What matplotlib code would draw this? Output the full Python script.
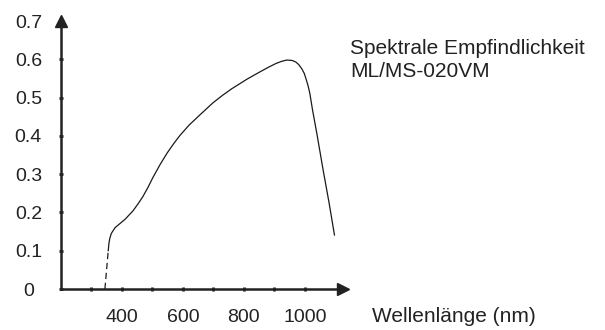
import matplotlib
matplotlib.use("Agg")
import matplotlib.pyplot as plt

plt.rcParams['font.family'] = ['Liberation Sans', 'DejaVu Sans']

# spectral sensitivity (nm, A/W)
wl_dash = [344, 355]
resp_dash = [0.0, 0.10]

wl = [355, 357, 360, 365, 377, 395, 410, 436, 455, 469, 485, 502, 525, 548,
      570, 590, 620, 656, 698, 730, 760, 810, 850, 880, 905, 925, 941, 958,
      970, 980, 990, 998, 1004, 1010, 1016, 1025, 1039, 1060, 1080, 1097]
resp = [0.10, 0.118, 0.132, 0.145, 0.160, 0.172, 0.182, 0.204, 0.225, 0.242,
        0.265, 0.292, 0.325, 0.355, 0.380, 0.401, 0.428, 0.455, 0.486, 0.506,
        0.523, 0.548, 0.566, 0.579, 0.589, 0.595, 0.598, 0.597, 0.593, 0.586,
        0.575, 0.563, 0.548, 0.532, 0.512, 0.468, 0.407, 0.310, 0.222, 0.141]

x_ticks = [400, 600, 800, 1000]
x_minor = [300, 500, 700, 900]
y_ticks = [0, 0.1, 0.2, 0.3, 0.4, 0.5, 0.6, 0.7]
y_labels = ['0', '0.1', '0.2', '0.3', '0.4', '0.5', '0.6', '0.7']

W, H = 605, 330
fig = plt.figure(figsize=(W / 100, H / 100), dpi=100)
ax = fig.add_axes([61 / W, (H - 289) / H, (343 - 61) / W, (289 - 21) / H])

ax.set_xlim(200, 1125)
ax.set_ylim(0, 0.7)

line_col = '#1a1a1a'
ax.plot(wl_dash, resp_dash, color=line_col, lw=0.9, ls=(0, (5, 3)))
ax.plot(wl, resp, color=line_col, lw=0.9)

for s in ['top', 'right']:
    ax.spines[s].set_visible(False)
for s in ['left', 'bottom']:
    ax.spines[s].set_linewidth(1.8)
    ax.spines[s].set_color('#222222')

# arrow heads at the axis ends
ax.plot([1125], [0], marker='>', color='#222222', ms=8, clip_on=False)
ax.plot([200], [0.7], marker='^', color='#222222', ms=8, clip_on=False)

ax.set_xticks(x_ticks)
ax.set_xticks(x_minor, minor=True)
ax.set_yticks(y_ticks)
ax.set_yticklabels(y_labels)
ax.tick_params(axis='both', which='both', direction='inout', length=3, width=2,
               color='#222222', labelsize=14, labelcolor='#222222')
ax.tick_params(axis='x', pad=13)
ax.tick_params(axis='y', pad=22)
for lab in ax.get_yticklabels():
    lab.set_horizontalalignment('center')

fig.text(350 / W, 1 - 54 / H, 'Spektrale Empfindlichkeit', fontsize=15,
         color='#222222', va='baseline')
fig.text(350 / W, 1 - 77 / H, 'ML/MS-020VM', fontsize=15,
         color='#222222', va='baseline')
fig.text(372 / W, 1 - 322 / H, 'Wellenlänge (nm)', fontsize=15,
         color='#222222', va='baseline')

fig.savefig('out.png', dpi=100)
